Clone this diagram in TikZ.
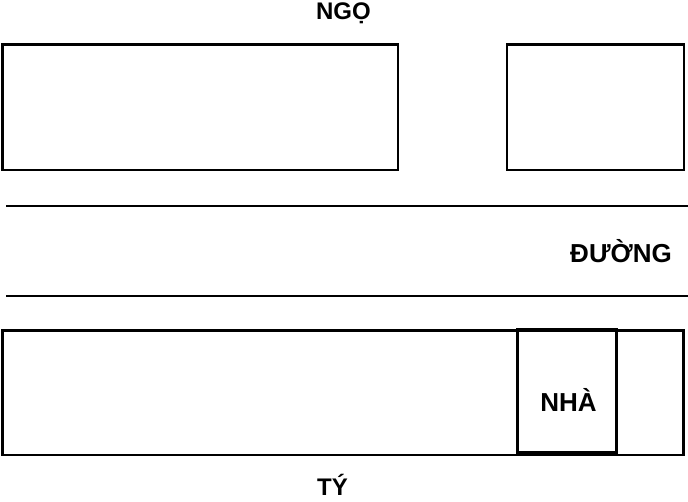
\documentclass[tikz,border=0pt]{standalone}
\usepackage{fontspec}
\setmainfont{Liberation Sans}
\usepackage{tikz}
\usetikzlibrary{positioning}

\begin{document}
\begin{tikzpicture}[x=1pt,y=-1pt,line width=2.6pt,
      lot/.style={draw=black},
      house/.style={draw=black,line width=3.2pt},
      road/.style={draw=black,line width=2.6pt},
      small label/.style={anchor=base,inner sep=0pt,font=\bfseries\fontsize{24}{26}\selectfont},
      big label/.style={anchor=base,inner sep=0pt,font=\bfseries\fontsize{26}{28}\selectfont}]

    \useasboundingbox (0,0) rectangle (688,501);

    % lots on the north side
    \draw[lot] (2.5,44.5) rectangle (398,170);
    \draw[lot] (507,44.5) rectangle (684,170);

    % the road
    \draw[road] (6,206) -- (688,206);
    \draw[road] (6,296) -- (688,296);

    % lot on the south side and the house
    \draw[lot] (2.5,330.5) rectangle (683.5,455);
    \draw[house] (517.5,330) rectangle (616.5,452.5);

    \node[small label] (ngo) at (343.5,19) {NGỌ};
    \node[big label] (duong) at (621,262) {ĐƯỜNG};
    \node[big label] (nha) at (568.5,411) {NHÀ};
    \node[small label] (ty) at (332.5,495) {TÝ};
\end{tikzpicture}
\end{document}
